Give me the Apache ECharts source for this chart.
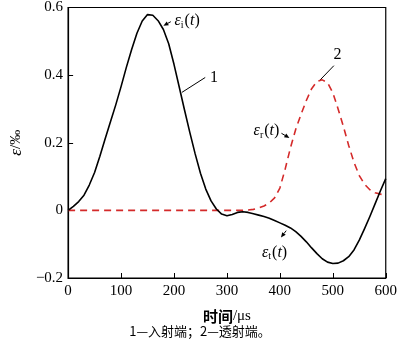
<!DOCTYPE html>
<html><head><meta charset="utf-8">
<script src="https://cdn.jsdelivr.net/npm/echarts@6/dist/echarts.min.js"></script>
<style>html,body{margin:0;padding:0;background:#fff}#c{width:400px;height:344px}</style>
</head><body><div id="c"></div>
<script>
// time axis, microseconds
const timeUs = [0,10,20,30,40,50,60,70,80,90,100,110,120,130,140,150,160,170,180,190,200,
  210,220,230,240,250,260,270,280,290,300,310,320,330,340,350,360,370,380,390,400,
  410,420,430,440,450,460,470,480,490,500,510,520,530,540,550,560,570,580,590,600];
// curve 1 (black, incident end + transmitted)
const curve1 = [0,0.012,0.026,0.045,0.075,0.112,0.16,0.212,0.262,0.312,0.366,
  0.423,0.476,0.524,0.56,0.579,0.577,0.561,0.535,0.493,0.432,
  0.364,0.296,0.23,0.167,0.11,0.063,0.028,0.004,-0.011,-0.016,
  -0.012,-0.006,-0.004,-0.006,-0.01,-0.014,-0.018,-0.023,-0.03,-0.037,
  -0.044,-0.052,-0.063,-0.077,-0.093,-0.111,-0.128,-0.143,-0.153,-0.157,
  -0.156,-0.149,-0.137,-0.117,-0.088,-0.054,-0.018,0.02,0.058,0.094];
// curve 2 (red dashed, reflected)
const curve2 = [0,0,0,0,0,0,0,0,0,0,0,
  0,0,0,0,0,0,0,0,0,0,
  0,0,0,0,0,0,0,0,0,0,
  0,0,0,0.001,0.003,0.007,0.013,0.022,0.037,0.066,
  0.122,0.185,0.24,0.284,0.325,0.36,0.381,0.386,0.378,0.348,
  0.3,0.248,0.192,0.142,0.103,0.077,0.061,0.052,0.048,0.045];
const xTicks = [0,100,200,300,400,500,600];
const yTicks = [-0.2,0,0.2,0.4,0.6];
const xName = '时间';
const xUnit = '/μs';
const yNameSym = 'ε';
const yUnit = '/‰';
const caption = '1—入射端；2—透射端。';

const serif = 'Liberation Serif';
const cjk = 'Noto Sans CJK SC';
const chart = echarts.init(document.getElementById('c'), null, {renderer:'canvas'});
const pairs = arr => timeUs.map((t,i)=>[t,arr[i]]);
const fmt = v => { const r = Math.round(v*10)/10; return r===0 ? '0' : (Number.isInteger(r) ? String(r) : r.toFixed(1)).replace('-','−'); };

chart.setOption({
  animation:false,
  backgroundColor:'#fff',
  grid:{left:51,right:12,top:7,bottom:66,show:true,borderColor:'#000',borderWidth:1.2,backgroundColor:'transparent'},
  xAxis:{type:'value',min:xTicks[0],max:xTicks[xTicks.length-1],interval:100,
    name:'{b|'+xName+'}{u|'+xUnit+'}',nameLocation:'middle',nameGap:31,
    nameTextStyle:{rich:{b:{fontFamily:cjk,fontWeight:'bold',fontSize:15,color:'#000'},u:{fontFamily:serif,fontSize:15,color:'#000'}}},
    axisLine:{onZero:false,lineStyle:{color:'#000',width:1.2}},
    axisTick:{inside:true,length:5,lineStyle:{color:'#000',width:1}},
    axisLabel:{fontFamily:serif,fontSize:15,color:'#000',margin:6,formatter:v=>fmt(v)},
    splitLine:{show:false}},
  yAxis:{type:'value',min:yTicks[0],max:yTicks[yTicks.length-1],interval:0.2,
    name:'{e|'+yNameSym+'}{u|'+yUnit+'}',nameLocation:'middle',nameGap:38,nameRotate:90,
    nameTextStyle:{rich:{e:{fontFamily:serif,fontStyle:'italic',fontSize:17,color:'#000'},u:{fontFamily:serif,fontSize:15,color:'#000'}}},
    axisLine:{onZero:false,lineStyle:{color:'#000',width:1.2}},
    axisTick:{inside:true,length:5,lineStyle:{color:'#000',width:1}},
    axisLabel:{fontFamily:serif,fontSize:15,color:'#000',margin:5,formatter:v=>fmt(v)},
    splitLine:{show:false}},
  series:[
    {type:'line',data:pairs(curve2),smooth:false,showSymbol:false,z:2,
      lineStyle:{color:'#d42a2a',width:1.6,type:[7,5],join:'round'}},
    {type:'line',data:pairs(curve1),smooth:false,showSymbol:false,z:3,
      lineStyle:{color:'#000',width:1.6,join:'round'}}
  ]
});

const P = (t,v) => chart.convertToPixel({gridIndex:0},[t,v]);
const epsRich = {
  e:{fontFamily:serif,fontStyle:'italic',fontSize:16,color:'#000'},
  s:{fontFamily:serif,fontSize:10,color:'#000',padding:[9,1,0,0]},
  n:{fontFamily:serif,fontSize:16,color:'#000'}
};
function epsText(sub, x, y, align){
  return {type:'text',x:x,y:y,style:{text:'{e|ε}{s|'+sub+'}{n|(}{e|t}{n|)}',rich:epsRich,align:align,verticalAlign:'middle'}};
}
function arrow(tail, tip){
  const dx=tip[0]-tail[0], dy=tip[1]-tail[1], L=Math.hypot(dx,dy), ux=dx/L, uy=dy/L;
  const h=5, w=2.2;
  const bx=tip[0]-ux*h, by=tip[1]-uy*h;
  return [
    {type:'line',shape:{x1:tail[0],y1:tail[1],x2:bx,y2:by},style:{stroke:'#000',lineWidth:1}},
    {type:'polygon',shape:{points:[tip,[bx-uy*w,by+ux*w],[bx+uy*w,by-ux*w]]},style:{fill:'#000'}}
  ];
}
const g = [];
// eps_i
let p = P(201,0.56); g.push(epsText('i',p[0],p[1],'left'));
g.push(...arrow(P(194,0.558),P(180,0.546)));
// label 1
g.push({type:'line',shape:{x1:P(215,0)[0],y1:P(0,0.349)[1],x2:P(259,0)[0],y2:P(0,0.393)[1]},style:{stroke:'#000',lineWidth:1}});
p = P(268,0.393); g.push({type:'text',x:p[0],y:p[1],style:{text:'1',fontFamily:serif,fontSize:16,fill:'#000',align:'left',verticalAlign:'middle'}});
// label 2
g.push({type:'line',shape:{x1:P(475,0)[0],y1:P(0,0.384)[1],x2:P(502,0)[0],y2:P(0,0.428)[1]},style:{stroke:'#000',lineWidth:1}});
p = P(509,0.46); g.push({type:'text',x:p[0],y:p[1],style:{text:'2',fontFamily:serif,fontSize:16,fill:'#000',align:'center',verticalAlign:'middle'}});
// eps_r
p = P(399,0.236); g.push(epsText('r',p[0],p[1],'right'));
g.push(...arrow(P(403,0.228),P(418,0.214)));
// eps_t
p = P(390,-0.124); g.push(epsText('t',p[0],p[1],'center'));
g.push(...arrow(P(412,-0.06),P(402,-0.08)));
// caption
g.push({type:'text',x:200,y:331,style:{text:caption,fontFamily:cjk,fontSize:13,fill:'#000',align:'center',verticalAlign:'middle'}});
chart.setOption({graphic:g});
</script></body></html>
